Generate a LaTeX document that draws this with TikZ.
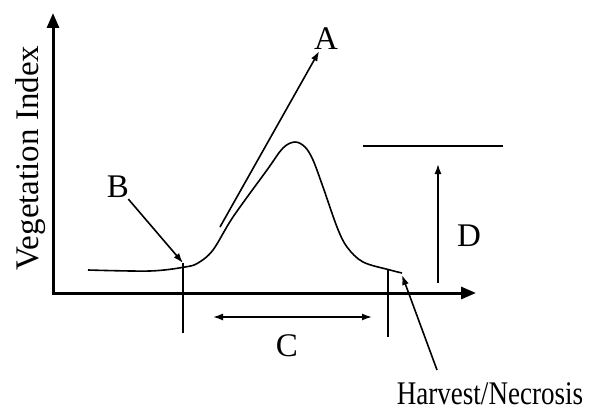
\documentclass[tikz,border=0pt]{standalone}
\usepackage{fontspec}
\setmainfont{Liberation Serif}
\usetikzlibrary{arrows.meta, positioning}

\begin{document}
\begin{tikzpicture}[x=1pt, y=-1pt,
    axis/.style={line width=3pt, -{Triangle[length=15pt, width=12pt]}},
    pointer/.style={line width=1.6pt, -{Latex[length=10pt, width=7pt]}},
    span/.style={line width=1.6pt, {Latex[length=10pt, width=7pt]}-{Latex[length=10pt, width=7pt]}},
    mark line/.style={line width=1.5pt},
    lbl/.style={font=\fontsize{33}{36}\selectfont, inner sep=1pt}
]
    \useasboundingbox (0,0) rectangle (592,412);

    % axes
    \coordinate (origin) at (53,293);
    \coordinate (ytop) at (53,13);
    \coordinate (xend) at (476,293);
    \draw[axis] ([yshift=1.5pt]origin) -- (ytop);
    \draw[axis] ([xshift=-1.5pt]origin) -- (xend);
    \node[lbl, rotate=90] (vi) at (31,158) {Vegetation Index};

    % seasonal curve
    \draw[line width=1.6pt] plot[smooth, tension=0.55] coordinates {
        (88,270) (150,271) (185,267) (198,263) (213,250) (233,217)
        (267,170) (283,148) (295,142) (305,147) (313,160) (323,187)
        (337,227) (347,247) (363,262) (390,270) (402,273)};

    % start and end of season
    \coordinate (sos top) at (183,263);
    \coordinate (sos bot) at (183,333);
    \coordinate (eos top) at (388,270);
    \coordinate (eos bot) at (388,337);
    \draw[mark line] (sos top) -- (sos bot);
    \draw[mark line] (eos top) -- (eos bot);

    % B
    \node[lbl] (B) at (118,187) {B};
    \draw[pointer] (B) -- (sos top);

    % A
    \node[lbl] (A) at (326,39) {A};
    \coordinate (A tail) at (220,227);
    \draw[pointer] (A tail) -- (A);

    % C
    \coordinate (C left) at (213,317);
    \coordinate (C right) at (372,317);
    \draw[span] (C left) -- (C right);
    \node[lbl] (C) at (287,346) {C};

    % D
    \coordinate (peak left) at (363,146);
    \coordinate (peak right) at (503,146);
    \draw[mark line] (peak left) -- (peak right);
    \coordinate (D base) at (438,283);
    \coordinate (D tip) at (438,164);
    \draw[pointer] (D base) -- (D tip);
    \node[lbl] (D) at (469,236) {D};

    % harvest
    \node[lbl] (harv) at (490,394) {\scalebox{0.82}[1]{Harvest/Necrosis}};
    \coordinate (harv tail) at (437,370);
    \coordinate (harv tip) at (402,275);
    \draw[pointer] (harv tail) -- (harv tip);
\end{tikzpicture}
\end{document}
